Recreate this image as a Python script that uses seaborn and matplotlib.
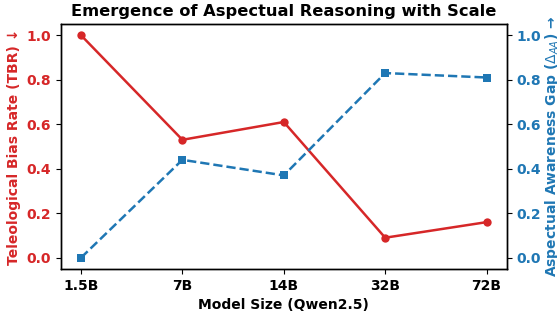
import numpy as np
import pandas as pd
import seaborn as sns
import matplotlib.pyplot as plt

sizes = ['1.5B', '7B', '14B', '32B', '72B']
tbr = [1.0, 0.53, 0.61, 0.09, 0.16]
aag = [0.0, 0.44, 0.37, 0.83, 0.81]

sns.set_theme(style="ticks", rc={
    'xtick.major.size': 3.5, 'ytick.major.size': 3.5,
    'xtick.major.width': 0.8, 'ytick.major.width': 0.8,
    'xtick.major.pad': 3.5, 'ytick.major.pad': 3.5,
    'text.color': 'black', 'axes.labelcolor': 'black',
    'xtick.color': 'black', 'ytick.color': 'black',
    'axes.edgecolor': 'black',
})
plt.rcParams['font.family'] = ['DejaVu Sans']

red = '#d62728'
blue = '#1f77b4'

df = pd.DataFrame({'pos': np.arange(len(sizes)), 'size': sizes, 'tbr': tbr, 'aag': aag})

fig, ax = plt.subplots(figsize=(5.57, 3.13), dpi=100)
ax2 = ax.twinx()

sns.lineplot(data=df, x='pos', y='tbr', ax=ax, color=red, marker='o', markersize=6,
             markeredgewidth=0, linewidth=1.8)
sns.lineplot(data=df, x='pos', y='aag', ax=ax2, color=blue, marker='s', markersize=6,
             markeredgewidth=0, linewidth=1.8, linestyle='--')

for a in (ax, ax2):
    a.set_ylim(-0.05, 1.05)
    a.set_yticks([0.0, 0.2, 0.4, 0.6, 0.8, 1.0])
    for s in a.spines.values():
        s.set_visible(True)
        s.set_color('black')
        s.set_linewidth(1.0)
ax.set_xlim(-0.2, 4.2)
ax.set_xticks(df['pos'])
ax.set_xticklabels(sizes, fontweight='bold', fontsize=10)

ax.set_yticklabels([f'{v:.1f}' for v in ax.get_yticks()], fontweight='bold', fontsize=10, color=red)
ax2.set_yticklabels([f'{v:.1f}' for v in ax2.get_yticks()], fontweight='bold', fontsize=10, color=blue)

ax.set_xlabel('Model Size (Qwen2.5)', fontweight='bold', fontsize=10)
ax.set_ylabel('Teleological Bias Rate (TBR) \u2193', fontweight='bold', fontsize=10, color=red)
ax2.set_ylabel('Aspectual Awareness Gap ($\\Delta_{AA}$) \u2192', fontweight='bold', fontsize=10,
               color=blue, rotation=90, labelpad=1)
ax.set_title('Emergence of Aspectual Reasoning with Scale', fontweight='bold', fontsize=11.7)

fig.subplots_adjust(left=0.109, right=0.910, top=0.923, bottom=0.141)
fig.savefig('out.png', dpi=100)
